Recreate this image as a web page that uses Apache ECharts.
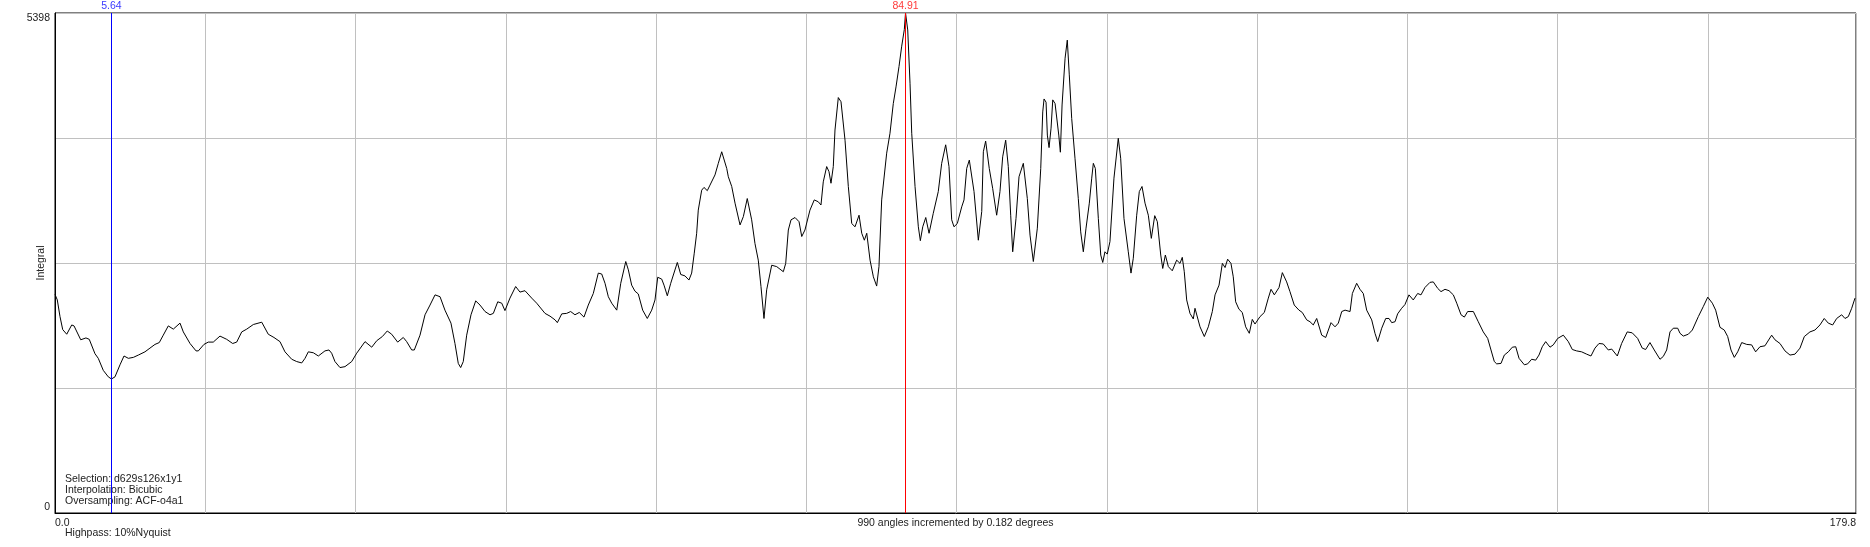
<!DOCTYPE html>
<html>
<head>
<meta charset="utf-8">
<script src="https://cdn.jsdelivr.net/npm/echarts@6/dist/echarts.min.js"></script>
<style>
html,body{margin:0;padding:0;background:#fff;}
#c{width:1870px;height:547px;}
</style>
</head>
<body>
<div id="c"></div>
<script>
// angle (degrees), integral
const profile = [
[0.0,2360],[0.23,2300],[0.5,2120],[0.77,1980],[1.17,1930],[1.67,2030],[1.9,2020],[2.57,1870],[3.09,1890],[3.42,1875],
[3.99,1720],[4.32,1670],[4.82,1540],[5.32,1470],[5.64,1447],[5.99,1470],[6.49,1600],[6.89,1695],[7.32,1670],[7.82,1680],
[8.32,1705],[8.98,1740],[9.48,1780],[9.98,1820],[10.41,1840],[10.81,1920],[11.31,2020],[11.81,1985],[12.48,2050],[12.81,1955],
[13.48,1830],[14.08,1750],[14.31,1750],[14.87,1820],[15.3,1845],[15.8,1845],[16.47,1910],[17.14,1875],[17.74,1830],[18.14,1845],
[18.64,1955],[19.14,1985],[19.8,2035],[20.64,2060],[21.29,1930],[21.86,1895],[22.46,1850],
[22.96,1740],[23.63,1660],[24.13,1635],[24.63,1620],[24.96,1670],[25.29,1740],[25.79,1730],[26.29,1695],[26.95,1750],[27.35,1760],
[27.62,1725],[27.95,1635],[28.45,1570],[28.95,1580],[29.62,1635],[30.12,1725],[30.95,1850],[31.62,1790],[32.12,1860],[32.68,1905],
[33.17,1965],[33.61,1930],[34.21,1845],[34.77,1895],[35.11,1850],[35.61,1760],[35.87,1760],[36.44,1920],[36.94,2140],[37.44,2245],
[37.94,2355],[38.44,2335],[38.93,2190],[39.53,2050],[39.93,1830],[40.26,1615],[40.5,1570],[40.76,1635],[41.1,1920],[41.53,2140],
[42.0,2290],[42.43,2245],[42.93,2175],[43.43,2140],[43.76,2155],[44.2,2280],[44.6,2265],
[44.92,2185],[45.42,2320],[45.99,2445],[46.42,2385],[46.92,2400],[47.59,2320],[48.09,2265],[48.92,2155],[49.42,2125],[49.92,2085],
[50.15,2055],[50.59,2150],[51.08,2155],[51.48,2175],[51.91,2140],[52.34,2165],[52.81,2115],[53.24,2245],[53.74,2370],[54.24,2590],
[54.58,2580],[54.91,2480],[55.24,2335],[55.58,2265],[56.08,2190],[56.48,2480],[56.98,2715],[57.24,2625],[57.57,2460],[57.9,2395],
[58.23,2365],[58.67,2190],[59.13,2100],[59.57,2190],[59.9,2300],[60.17,2545],[60.57,2525],[60.8,2460],[61.13,2345],[61.47,2480],
[62.13,2705],[62.47,2575],[62.89,2560],[63.29,2515],[63.56,2590],[63.82,2805],[64.06,3020],[64.22,3270],[64.56,3485],[64.79,3515],
[65.12,3480],[65.39,3540],[65.89,3650],[66.22,3775],[66.56,3900],[66.72,3900],[67.06,3720],
[67.22,3630],[67.56,3525],[67.89,3345],[68.39,3110],[68.72,3200],[69.11,3395],[69.55,3165],[69.88,2910],[70.21,2730],[70.48,2445],
[70.78,2100],[71.05,2410],[71.55,2675],[72.05,2660],[72.71,2605],[72.95,2695],[73.21,3055],[73.48,3165],[73.88,3190],[74.28,3145],
[74.55,2985],[74.87,3055],[75.37,3270],[75.8,3380],[76.2,3360],[76.47,3325],[76.7,3575],[77.04,3740],[77.27,3685],[77.47,3560],
[77.7,3740],[77.87,4135],[78.2,4485],[78.47,4440],[78.87,4025],[79.2,3525],[79.54,3125],[79.87,3090],[80.27,3215],[80.54,3020],
[80.8,2945],[81.04,3020],[81.37,2730],[81.7,2550],[82.03,2450],[82.26,2660],[82.53,3380],[83.03,3885],[83.36,4100],[83.69,4420],
[83.96,4600],[84.13,4585],[84.26,4820],[84.53,5040],[84.79,5220],[84.91,5398],[85.13,5215],[85.36,4640],[85.53,4100],[85.86,3525],
[86.19,3090],[86.39,2940],[86.63,3090],[86.93,3190],[87.26,3020],[87.68,3235],[88.18,3470],[88.52,3775],[88.92,3975],[89.25,3740],
[89.52,3165],[89.75,3090],
[90.08,3125],[90.52,3305],[90.75,3380],[91.02,3720],[91.28,3810],[91.75,3470],[92.18,2945],[92.52,3255],[92.68,3900],[92.91,4015],
[93.27,3720],[93.61,3505],[94.01,3215],[94.34,3470],[94.61,3845],[94.91,4025],[95.17,3740],[95.41,3215],[95.61,2820],[95.94,3180],
[96.24,3630],[96.67,3775],[97.07,3395],[97.34,3000],[97.67,2715],[98.07,3075],[98.41,3720],[98.61,4330],[98.74,4470],[98.94,4435],
[99.07,4080],[99.24,3945],[99.44,4155],[99.61,4460],[99.84,4420],[100.01,4435],[100.21,4080],[100.37,3895],[100.54,4405],[100.84,4910],
[101.06,5105],[101.26,4730],[101.5,4260],[101.83,3830],[102.16,3395],[102.4,3035],[102.66,2820],[102.93,3075],[103.26,3345],[103.5,3615],
[103.66,3775],[103.86,3720],[104.16,3180],[104.4,2785],[104.6,2705],[104.82,2820],[105.05,2795],[105.32,2930],[105.72,3615],[106.15,4045],
[106.39,3830],[106.72,3180],[107.15,2820],[107.42,2590],[107.65,2750],[107.99,3215],[108.25,3470],[108.52,3525],[108.82,3345],[109.15,3215],
[109.45,2965],[109.79,3210],[110.05,3145],[110.39,2785],[110.59,2640],[110.85,2785],[111.15,2660],[111.54,2615],[111.98,2730],[112.31,2695],
[112.54,2760],[112.74,2605],[112.98,2300],[113.31,2155],[113.64,2095],[113.81,2210],[113.98,2230],[114.31,2010],[114.74,1905],[115.14,2010],
[115.54,2175],[115.81,2355],[116.21,2460],[116.54,2695],[116.81,2650],[117.07,2740],[117.4,2695],[117.63,2550],[117.87,2280],[118.2,2200],
[118.53,2165],[118.87,2010],[119.23,1940],[119.53,2090],[119.8,2040],[120.3,2120],[120.73,2165],[121.13,2320],[121.4,2415],[121.73,2355],
[122.2,2435],[122.53,2595],[122.96,2495],[123.29,2390],[123.72,2245],[124.19,2190],[124.52,2165],[124.96,2085],[125.29,2065],[125.62,2030],
[125.96,2100],[126.46,1920],[126.86,1895],[127.39,2055],[127.79,2010],[128.12,2050],[128.46,2175],[128.79,2190],[129.29,2175],[129.52,2370],
[129.95,2480],[130.28,2415],[130.61,2370],[130.95,2190],[131.45,2085],[131.78,1940],[132.05,1850],[132.45,1995],[132.85,2100],[133.18,2100],
[133.45,2055],[133.78,2065],[134.04,2150],[134.44,2210],[134.77,2250],
[135.17,2355],[135.6,2300],[136.04,2370],[136.37,2355],[136.77,2435],[137.27,2490],[137.6,2495],[138.04,2425],[138.37,2390],[138.77,2415],
[139.17,2400],[139.6,2355],[139.94,2265],[140.37,2140],[140.7,2115],[141.03,2175],[141.6,2175],[142.09,2065],[142.59,1955],[143.03,1885],
[143.36,1760],[143.69,1635],[143.93,1610],[144.36,1615],[144.69,1705],[145.09,1740],[145.49,1790],[145.83,1795],[146.16,1670],[146.69,1600],
[147.02,1610],[147.42,1660],[147.82,1650],[148.15,1705],[148.48,1795],[148.82,1850],[149.25,1790],[149.58,1815],[150.02,1885],[150.58,1920],
[151.08,1850],[151.48,1765],[151.91,1750],[152.41,1740],[152.91,1715],[153.34,1695],[153.74,1780],[154.14,1830],[154.57,1825],[155.07,1760],
[155.41,1770],[155.97,1695],[156.4,1830],[156.96,1955],[157.46,1945],[158.0,1885],[158.46,1780],[158.8,1765],[159.23,1840],[159.66,1760],
[160.23,1660],[160.56,1690],[160.9,1760],[161.23,1955],[161.56,1995],[162.0,1995],[162.23,1940],[162.56,1910],[163.06,1930],[163.46,1975],
[164.06,2120],[164.56,2230],[165.0,2330],[165.46,2265],[165.79,2190],[166.22,2005],[166.65,1975],[166.99,1905],[167.32,1760],[167.65,1680],
[167.99,1740],[168.39,1840],[168.89,1820],[169.38,1815],[169.78,1740],[170.21,1795],[170.71,1805],[171.38,1920],[171.71,1870],[172.21,1830],
[172.71,1750],[173.21,1705],[173.71,1715],[174.21,1780],[174.64,1905],[175.2,1955],[175.7,1975],[176.2,2030],[176.63,2100],[177.03,2050],
[177.47,2030],[177.87,2100],[178.37,2140],[178.7,2100],[179.03,2120],[179.37,2210],[179.7,2320]
];

const xMin = 0, xMax = 179.8, xStep = 15;
const yMin = 0, yMax = 5398;
const xTickLabels = ['0.0', '179.8'];
const yTickLabels = ['0', '5398'];
const markerAngles = [5.64, 84.91];
const markerColors = ['#0000ff', '#ff0000'];
const markerLabelColors = ['#3a3aff', '#ff3a3a'];
const xAxisTitle = '990 angles incremented by 0.182 degrees';
const yAxisTitle = 'Integral';
const infoLines = ['Selection: d629s126x1y1', 'Interpolation: Bicubic', 'Oversampling: ACF-o4a1'];
const footLine = 'Highpass: 10%Nyquist';

const FONT = '"Liberation Sans", Arial, sans-serif';
const FS = 10.5;
const chart = echarts.init(document.getElementById('c'), null, {renderer: 'canvas'});

const option = {
  animation: false,
  backgroundColor: '#fff',
  grid: {left: 55, top: 13, right: 14, bottom: 34, show: true, borderColor: '#000', borderWidth: 1,
         backgroundColor: 'transparent', containLabel: false, outerBoundsMode: 'none'},
  xAxis: {
    type: 'value', min: xMin, max: xMax, interval: xStep,
    axisLine: {show: true, lineStyle: {color: '#000', width: 1}},
    axisTick: {show: false},
    splitLine: {show: true, lineStyle: {color: '#c0c0c0', width: 1}},
    axisLabel: {
      color: '#222', fontFamily: FONT, fontSize: FS, margin: 5,
      alignMinLabel: 'left', alignMaxLabel: 'right',
      showMinLabel: true, showMaxLabel: true,
      formatter: function (v) {
        if (Math.abs(v - xMin) < 1e-6) return xTickLabels[0];
        if (Math.abs(v - xMax) < 1e-6) return xTickLabels[1];
        return '';
      }
    },
    name: xAxisTitle, nameLocation: 'middle', nameGap: 5, nameMoveOverlap: false,
    nameTextStyle: {color: '#222', fontFamily: FONT, fontSize: FS, verticalAlign: 'top'}
  },
  yAxis: {
    type: 'value', min: yMin, max: yMax, interval: (yMax - yMin) / 4,
    axisLine: {show: true, lineStyle: {color: '#000', width: 1}},
    axisTick: {show: false},
    splitLine: {show: true, lineStyle: {color: '#c0c0c0', width: 1}},
    axisLabel: {
      color: '#222', fontFamily: FONT, fontSize: FS, margin: 5,
      verticalAlignMinLabel: 'bottom', verticalAlignMaxLabel: 'top',
      showMinLabel: true, showMaxLabel: true,
      formatter: function (v) {
        if (Math.abs(v - yMin) < 1e-6) return yTickLabels[0];
        if (Math.abs(v - yMax) < 1e-6) return yTickLabels[1];
        return '';
      }
    },
    name: yAxisTitle, nameLocation: 'middle', nameGap: 8.5, nameRotate: 90, nameMoveOverlap: false,
    nameTextStyle: {color: '#222', fontFamily: FONT, fontSize: FS}
  },
  series: [{
    type: 'line',
    data: profile,
    showSymbol: false,
    symbol: 'none',
    lineStyle: {color: '#000', width: 1},
    silent: true,
    z: 3,
    markLine: {
      silent: true,
      symbol: ['none', 'none'],
      animation: false,
      data: markerAngles.map(function (a, i) {
        return {
          xAxis: a,
          lineStyle: {color: markerColors[i], width: 1, type: 'solid'},
          label: {show: true, position: 'end', distance: 1, formatter: String(a), color: markerLabelColors[i], fontFamily: FONT, fontSize: FS}
        };
      })
    }
  }],
  graphic: [
    {
      type: 'text', left: 65, top: 473,
      style: {text: infoLines.join('\n'), fill: '#222', font: FS + 'px ' + FONT, lineHeight: 11.3}
    },
    {
      type: 'text', left: 65, top: 528,
      style: {text: footLine, fill: '#222', font: FS + 'px ' + FONT}
    }
  ]
};
chart.setOption(option);
</script>
</body>
</html>
